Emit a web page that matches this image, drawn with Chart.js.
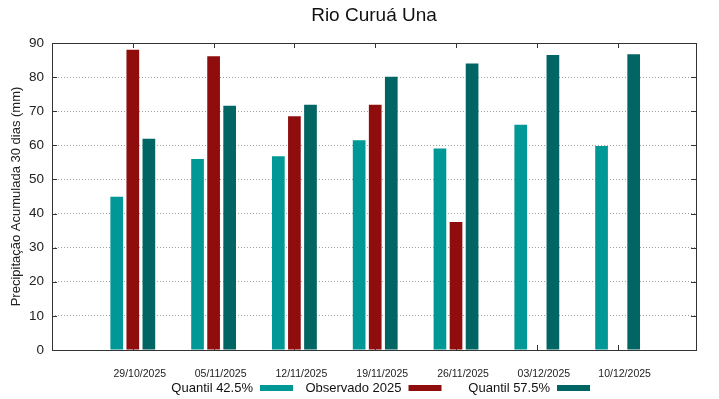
<!DOCTYPE html>
<html>
<head>
<meta charset="utf-8">
<script src="https://cdn.jsdelivr.net/npm/chart.js@4/dist/chart.umd.min.js"></script>
<style>
  html, body { margin: 0; padding: 0; background: #fff; }
  #wrap { width: 719px; height: 399px; }
</style>
</head>
<body>
<div id="wrap"><canvas id="myChart" width="719" height="399"></canvas></div>
<script>
// Data
var chartTitle = "Rio Curuá Una";
var yTitle = "Precipitação Acumulada 30 dias (mm)";
var dates = ["29/10/2025", "05/11/2025", "12/11/2025", "19/11/2025", "26/11/2025", "03/12/2025", "10/12/2025"];
var quantil425 = [44.9, 56.0, 56.8, 61.5, 59.1, 66.0, 59.8];
var observado2025 = [88.0, 86.1, 68.5, 71.9, 37.5, null, null];
var quantil575 = [61.9, 71.6, 71.9, 80.1, 84.0, 86.5, 86.7];
var seriesNames = ["Quantil 42.5%", "Observado 2025", "Quantil 57.5%"];
var seriesColors = ["#009896", "#8f0d0d", "#006563"];
var yTicks = [0, 10, 20, 30, 40, 50, 60, 70, 80, 90];

var fontName = "'Liberation Sans', Arial, sans-serif";

//Turns a list of values into {x, y} points on the linear x axis
function toPoints(values) {
    var pts = [];
    values.forEach((v, i) => {
        pts.push({ x: i, y: v });
    });
    return pts;
}

//Draws the gnuplot-like frame, inner ticks, title and legend
var gnuplotLook = {
    id: "gnuplotLook",
    beforeDatasetsDraw: function (chart) {
        var ctx = chart.ctx;
        var area = chart.chartArea;
        var xs = chart.scales.x;
        var ys = chart.scales.y;
        ctx.save();
        ctx.strokeStyle = "#333";
        ctx.lineWidth = 1;
        ctx.beginPath();
        yTicks.forEach(t => {
            var y = Math.round(ys.getPixelForValue(t)) + 0.5;
            ctx.moveTo(area.left, y);
            ctx.lineTo(area.left + 5, y);
            ctx.moveTo(area.right, y);
            ctx.lineTo(area.right - 5, y);
        });
        dates.forEach((d, i) => {
            var x = Math.round(xs.getPixelForValue(i)) + 0.5;
            ctx.moveTo(x, area.top);
            ctx.lineTo(x, area.top + 5);
            ctx.moveTo(x, area.bottom);
            ctx.lineTo(x, area.bottom - 5);
        });
        ctx.stroke();
        ctx.restore();
    },
    afterDatasetsDraw: function (chart) {
        var ctx = chart.ctx;
        var area = chart.chartArea;
        ctx.save();
        ctx.strokeStyle = "#333";
        ctx.lineWidth = 1;
        ctx.strokeRect(Math.round(area.left) + 0.5, Math.round(area.top) + 0.5,
            Math.round(area.right - area.left), Math.round(area.bottom - area.top));
        ctx.restore();
    },
    afterDraw: function (chart) {
        var ctx = chart.ctx;
        var area = chart.chartArea;
        ctx.save();
        //Title
        ctx.fillStyle = "#111";
        ctx.font = "19px " + fontName;
        ctx.textAlign = "center";
        ctx.textBaseline = "middle";
        ctx.fillText(chartTitle, (area.left + area.right) / 2, 16);

        //Legend: text first, then the colour sample
        ctx.font = "13px " + fontName;
        ctx.textAlign = "right";
        var legendY = 388;
        var sampleX = 260;
        var colW = 148.5;
        seriesNames.forEach((name, i) => {
            var sx = sampleX + i * colW;
            ctx.fillStyle = "#111";
            ctx.fillText(name, sx - 7, legendY);
            ctx.fillStyle = seriesColors[i];
            ctx.fillRect(sx, legendY - 3, 33, 6);
        });
        ctx.restore();
    }
};

var chart = new Chart("myChart", {
    type: "bar",
    data: {
        datasets: [{
            label: seriesNames[0],
            data: toPoints(quantil425),
            backgroundColor: seriesColors[0]
        }, {
            label: seriesNames[1],
            data: toPoints(observado2025),
            backgroundColor: seriesColors[1]
        }, {
            label: seriesNames[2],
            data: toPoints(quantil575),
            backgroundColor: seriesColors[2]
        }]
    },
    options: {
        responsive: false,
        animation: false,
        devicePixelRatio: 1,
        categoryPercentage: 0.615,
        barPercentage: 0.79,
        layout: {
            padding: { top: 43, right: 23, left: 0, bottom: 0 }
        },
        plugins: {
            legend: { display: false },
            title: { display: false },
            tooltip: { enabled: false }
        },
        scales: {
            x: {
                type: "linear",
                min: -1,
                max: 6.97,
                offset: false,
                grid: { display: false },
                border: { display: false },
                afterFit: function (scale) { scale.height = 49; },
                ticks: {
                    stepSize: 1,
                    autoSkip: false,
                    maxRotation: 0,
                    padding: 10,
                    labelOffset: 7,
                    color: "#222",
                    font: { family: fontName, size: 10.5 },
                    callback: function (v) {
                        return dates[v] !== undefined ? dates[v] : "";
                    }
                }
            },
            y: {
                min: 0,
                max: 90,
                afterFit: function (scale) { scale.width = 52; },
                grid: {
                    color: "#a0a0a0",
                    lineWidth: 1,
                    drawTicks: false
                },
                border: { display: false, dash: [1, 2] },
                ticks: {
                    stepSize: 10,
                    padding: 8,
                    color: "#222",
                    font: { family: fontName, size: 13.5 }
                },
                title: {
                    display: true,
                    text: yTitle,
                    color: "#222",
                    font: { family: fontName, size: 13 },
                    padding: { top: 9, bottom: 0 }
                }
            }
        }
    },
    plugins: [gnuplotLook]
});
</script>
</body>
</html>
